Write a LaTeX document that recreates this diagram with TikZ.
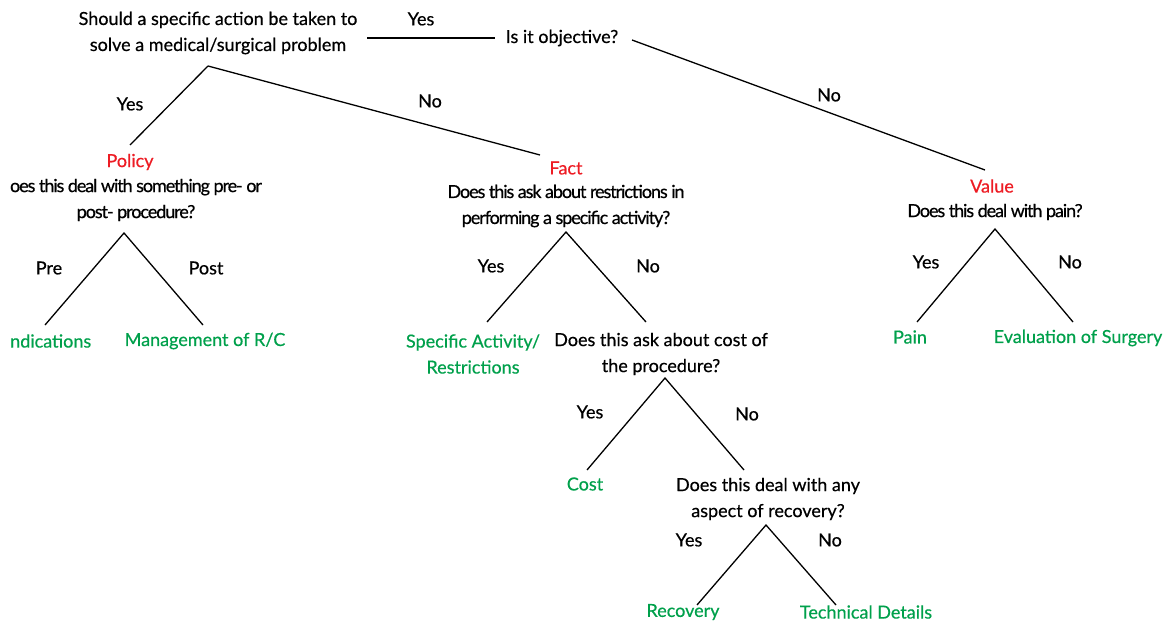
\documentclass[tikz,border=0pt]{standalone}
\usepackage{fontspec}
\setmainfont{Lato}
\newfontfamily\heavyfont[FakeBold=0.5]{Lato}
\newfontfamily\tightfont[FakeBold=0.6,LetterSpace=-6]{Lato}
\definecolor{catred}{RGB}{237,28,36}
\definecolor{leafgreen}{RGB}{0,160,75}
\begin{document}
\begin{tikzpicture}[x=1pt,y=-1pt,
  txt/.style={inner sep=0pt,align=center,font=\heavyfont\fontsize{18}{26}\selectfont},
  qnode/.style={txt,text=black},
  tq/.style={inner sep=0pt,align=center,text=black,font=\tightfont\fontsize{18}{26}\selectfont},
  cat/.style={txt,text=catred},
  leaf/.style={txt,text=leafgreen},
  lbl/.style={txt,text=black},
  edge/.style={draw=black,line width=1.3pt}]
\useasboundingbox (0,0) rectangle (1169,623);
% questions
\node[qnode] (q1) at (218,33) {Should a specific action be taken to\\solve a medical/surgical problem};
\node[qnode] (qobj) at (562,38) {Is it objective?};
\node[cat] (policy) at (130,162) {Policy};
\node[tq] (qpol) at (136,200) {oes this deal with something pre- or\\post- procedure?};
\node[cat] (fact) at (566,168) {Fact};
\node[tq] (qfact) at (566,206) {Does this ask about restrictions in\\performing a specific activity?};
\node[cat] (value) at (992,186) {Value};
\node[tq] (qval) at (995,212) {Does this deal with pain?};
\node[qnode] (qcost) at (661,354) {Does this ask about cost of\\the procedure?};
\node[qnode] (qrec) at (768,499) {Does this deal with any\\aspect of recovery?};
% leaves
\node[leaf,anchor=west] (ind) at (10,341) {ndications};
\node[leaf] (mgmt) at (205,341) {Management of R/C};
\node[leaf] (spec) at (473,354) {Specific Activity/\\Restrictions};
\node[leaf] (cost) at (585,484) {Cost};
\node[leaf] (recov) at (683,612) {Recovery};
\node[leaf] (tech) at (866,612) {Technical Details};
\node[leaf] (pain) at (910,337) {Pain};
\node[leaf] (evals) at (1078,338) {Evaluation of Surgery};
% connector end points
\coordinate (q1r) at (367,38);
\coordinate (objl) at (495,38);
\coordinate (objr) at (632,40);
\coordinate (valtop) at (985,170);
\coordinate (q1b) at (208,66);
\coordinate (poltop) at (130,145);
\coordinate (facttop) at (540,155);
\coordinate (polapex) at (124,233);
\coordinate (pl) at (45,325);
\coordinate (pr) at (203,325);
\coordinate (factapex) at (566,232);
\coordinate (fl) at (487,322);
\coordinate (fr) at (646,322);
\coordinate (costapex) at (665,378);
\coordinate (cl) at (587,470);
\coordinate (cr) at (744,470);
\coordinate (recapex) at (766,525);
\coordinate (rl) at (697,605);
\coordinate (rr) at (836,605);
\coordinate (valapex) at (995,229);
\coordinate (vl) at (917,322);
\coordinate (vr) at (1073,322);
% connectors
\draw[edge] (q1r) -- (objl);
\draw[edge] (objr) -- (valtop);
\draw[edge] (q1b) -- (poltop);
\draw[edge] (q1b) -- (facttop);
\draw[edge] (pl) -- (polapex) -- (pr);
\draw[edge] (fl) -- (factapex) -- (fr);
\draw[edge] (cl) -- (costapex) -- (cr);
\draw[edge] (rl) -- (recapex) -- (rr);
\draw[edge] (vl) -- (valapex) -- (vr);
% labels
\node[lbl] (l1) at (421,19) {Yes};
\node[lbl] (l2) at (829,95) {No};
\node[lbl] (l3) at (130,104) {Yes};
\node[lbl] (l4) at (430,101) {No};
\node[lbl] (l5) at (49,268) {Pre};
\node[lbl] (l6) at (206,268) {Post};
\node[lbl] (l7) at (491,266) {Yes};
\node[lbl] (l8) at (648,266) {No};
\node[lbl] (l9) at (590,412) {Yes};
\node[lbl] (l10) at (747,414) {No};
\node[lbl] (l11) at (689,540) {Yes};
\node[lbl] (l12) at (830,540) {No};
\node[lbl] (l13) at (926,262) {Yes};
\node[lbl] (l14) at (1070,262) {No};
\end{tikzpicture}
\end{document}
